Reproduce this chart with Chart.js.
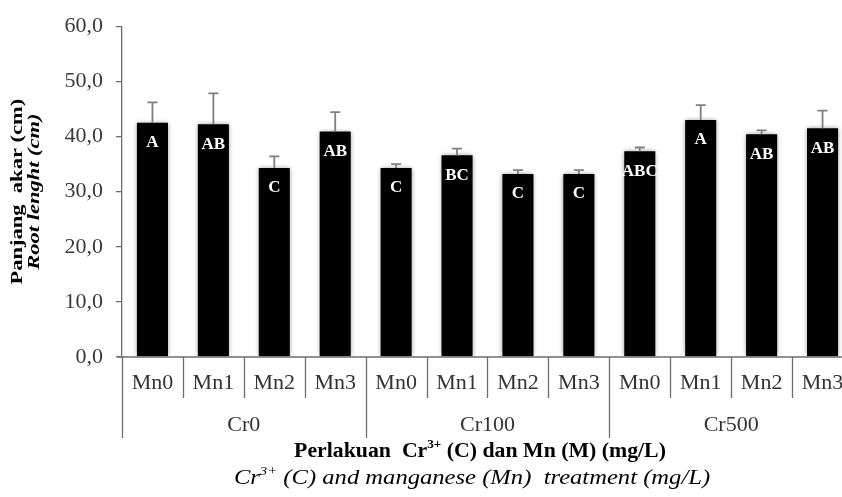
<!DOCTYPE html>
<html lang="id">
<head>
  <meta charset="UTF-8">
  <title>Panjang akar - Root length</title>
  <script src="https://cdn.jsdelivr.net/npm/chart.js"></script>
<style>
  html, body { margin: 0; padding: 0; background: #fff; }
  /* the plot runs a little past the right edge in the original, so clip it */
  .chart-box { width: 842px; height: 497px; overflow: hidden; }
</style>
</head>
<body>
  <div class="chart-box">
    <canvas id="rootChart" width="853" height="497"></canvas>
  </div>
  <script>
    // Data
    const groups = ['Cr0', 'Cr100', 'Cr500'];
    const doses = ['Mn0', 'Mn1', 'Mn2', 'Mn3'];
    const rootLength = [42.5, 42.2, 34.3, 40.9, 34.3, 36.6, 33.2, 33.2, 37.3, 43.0, 40.4, 41.5];
    const rootSd = [3.7, 5.6, 2.1, 3.5, 0.7, 1.2, 0.7, 0.7, 0.7, 2.7, 0.7, 3.2];
    const letters = ['A', 'AB', 'C', 'AB', 'C', 'BC', 'C', 'C', 'ABC', 'A', 'AB', 'AB'];
    const yTicks = [0, 10, 20, 30, 40, 50, 60];

    const labels = [];
    groups.forEach(g => doses.forEach(d => labels.push(g + ' ' + d)));

    const SERIF = "'Liberation Serif', 'Times New Roman', serif";

    // soft grey halo round the bars
    const barShadow = {
      id: 'barShadow',
      beforeDatasetsDraw(chart) {
        const ctx = chart.ctx;
        ctx.save();
        ctx.shadowColor = 'rgba(0, 0, 0, 0.45)';
        ctx.shadowBlur = 5;
      },
      afterDatasetsDraw(chart) {
        chart.ctx.restore();
      }
    };

    // error bars (upper only) and the letters inside the bars
    const barExtras = {
      id: 'barExtras',
      afterDatasetsDraw(chart) {
        const ctx = chart.ctx;
        const y = chart.scales.y;
        const meta = chart.getDatasetMeta(0);
        ctx.save();
        meta.data.forEach((bar, i) => {
          const top = y.getPixelForValue(rootLength[i]);
          const up = y.getPixelForValue(rootLength[i] + rootSd[i]);
          ctx.strokeStyle = '#7f7f7f';
          ctx.lineWidth = 1.8;
          ctx.beginPath();
          ctx.moveTo(bar.x, top);
          ctx.lineTo(bar.x, up);
          ctx.moveTo(bar.x - 5, up);
          ctx.lineTo(bar.x + 5, up);
          ctx.stroke();

          ctx.fillStyle = '#fff';
          ctx.font = 'bold 17px ' + SERIF;
          ctx.textAlign = 'center';
          ctx.textBaseline = 'middle';
          ctx.fillText(letters[i], bar.x, top + 20);
        });
        ctx.restore();
      }
    };

    // draw text runs with superscripts, centred on cx, stretched sideways by sx
    function drawRich(ctx, parts, cx, cy, sx, font, supFont) {
      let w = 0;
      parts.forEach(p => {
        ctx.font = p.sup ? supFont : font;
        p.w = ctx.measureText(p.t).width;
        w += p.w;
      });
      ctx.save();
      ctx.translate(cx - w * sx / 2, cy);
      ctx.scale(sx, 1);
      let x = 0;
      parts.forEach(p => {
        ctx.font = p.sup ? supFont : font;
        ctx.fillText(p.t, x, p.sup ? -7 : 0);
        x += p.w;
      });
      ctx.restore();
    }

    // two-level category axis plus the axis titles
    const treatmentAxis = {
      id: 'treatmentAxis',
      afterDraw(chart) {
        const ctx = chart.ctx;
        const x = chart.scales.x;
        const area = chart.chartArea;
        const half = (x.getPixelForValue(1) - x.getPixelForValue(0)) / 2;
        ctx.save();

        ctx.strokeStyle = '#6e6e6e';
        ctx.lineWidth = 1.3;
        ctx.beginPath();
        ctx.moveTo(area.left - 5, area.bottom);
        ctx.lineTo(area.right, area.bottom);
        for (let i = 0; i <= labels.length; i++) {
          const px = Math.round(x.getPixelForValue(i) - half) + 0.5;
          const len = i % doses.length === 0 ? 81 : 41;
          ctx.moveTo(px, area.bottom);
          ctx.lineTo(px, area.bottom + len);
        }
        ctx.stroke();

        ctx.fillStyle = '#333';
        ctx.font = '22px ' + SERIF;
        ctx.textAlign = 'center';
        ctx.textBaseline = 'middle';
        labels.forEach((l, i) => {
          ctx.fillText(doses[i % doses.length], x.getPixelForValue(i), area.bottom + 26);
        });
        groups.forEach((g, k) => {
          const first = x.getPixelForValue(k * doses.length);
          const last = x.getPixelForValue((k + 1) * doses.length - 1);
          ctx.fillText(g, (first + last) / 2, area.bottom + 68);
        });

        // x title, two lines
        ctx.fillStyle = '#000';
        ctx.textAlign = 'left';
        drawRich(ctx, [{ t: 'Perlakuan  Cr' }, { t: '3+', sup: true }, { t: ' (C) dan Mn (M) (mg/L)' }],
          480, 452, 1.09, 'bold 20px ' + SERIF, 'bold 12px ' + SERIF);
        drawRich(ctx, [{ t: 'Cr' }, { t: '3+', sup: true }, { t: ' (C) and manganese (Mn)  treatment (mg/L)' }],
          472, 479, 1.23, 'italic 20px ' + SERIF, 'italic 12px ' + SERIF);

        // y title, two lines rotated and squeezed across
        const cy = (area.top + area.bottom) / 2;
        ctx.textAlign = 'center';
        ctx.translate(18, cy);
        ctx.rotate(-Math.PI / 2);
        ctx.scale(1, 0.72);
        ctx.font = 'bold 22.5px ' + SERIF;
        ctx.fillText('Panjang  akar (cm)', 0, 0);
        ctx.font = 'italic bold 22.5px ' + SERIF;
        ctx.fillText('Root lenght (cm)', 0, 23.5);
        ctx.restore();
      }
    };

    function initChart() {
      const ctx = document.getElementById('rootChart').getContext('2d');
      new Chart(ctx, {
        type: 'bar',
        data: {
          labels: labels,
          datasets: [{
            data: rootLength,
            backgroundColor: '#000',
            borderWidth: 0,
            categoryPercentage: 1,
            barPercentage: 0.51
          }]
        },
        options: {
          responsive: false,
          animation: false,
          devicePixelRatio: 1,
          layout: { padding: { top: 19, right: 0, bottom: 140, left: 0 } },
          plugins: {
            legend: { display: false },
            tooltip: { enabled: false }
          },
          scales: {
            x: { display: false },
            y: {
              min: yTicks[0],
              max: yTicks[yTicks.length - 1],
              afterFit(scale) { scale.width = 122; },
              ticks: {
                stepSize: yTicks[1] - yTicks[0],
                callback: v => v.toFixed(1).replace('.', ','),
                font: { family: SERIF, size: 22 },
                color: '#3a3a3a',
                padding: 13
              },
              grid: { drawOnChartArea: false, tickLength: 6, color: '#6e6e6e', lineWidth: 1.3 },
              border: { color: '#6e6e6e', width: 1.3 }
            }
          }
        },
        plugins: [barShadow, barExtras, treatmentAxis]
      });
    }

    document.addEventListener('DOMContentLoaded', initChart);
  </script>
</body>
</html>
